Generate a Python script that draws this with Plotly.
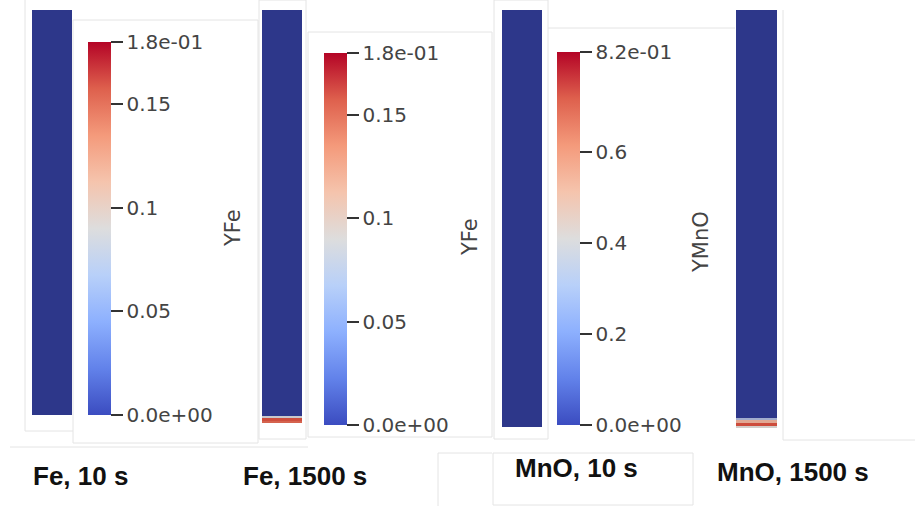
import plotly.graph_objects as go

W, H = 915, 506

# ---------------- data ----------------
panel_labels = ["Fe, 10 s", "Fe, 1500 s", "MnO, 10 s", "MnO, 1500 s"]
colorbar_titles = ["YFe", "YFe", "YMnO"]

fe_range = [0.0, 0.18]
mno_range = [0.0, 0.82]

fe_tickvals = [0.0, 0.05, 0.1, 0.15, 0.18]
fe_ticktext = ["0.0e+00", "0.05", "0.1", "0.15", "1.8e-01"]
mno_tickvals = [0.0, 0.2, 0.4, 0.6, 0.82]
mno_ticktext = ["0.0e+00", "0.2", "0.4", "0.6", "8.2e-01"]

# vertical profiles (cell edges as fraction of column height, bottom -> top)
fe_10_edges = [0.0, 1.0]
fe_10_values = [0.0]
fe_1500_edges = [0.0, 0.006, 0.012, 0.018, 1.0]
fe_1500_values = [0.16, 0.17, 0.085, 0.0]
mno_10_edges = [0.0, 1.0]
mno_10_values = [0.0]
mno_1500_edges = [0.0, 0.005, 0.013, 0.018, 0.024, 1.0]
mno_1500_values = [0.42, 0.78, 0.55, 0.3, 0.0]
col_edges = [0.0, 1.0]

# ---------------- styles ----------------
cool_warm = [
    [0.0, "rgb(59,76,192)"], [0.125, "rgb(98,130,234)"], [0.25, "rgb(141,176,254)"],
    [0.375, "rgb(184,208,249)"], [0.5, "rgb(221,221,221)"], [0.625, "rgb(245,196,173)"],
    [0.75, "rgb(244,154,123)"], [0.875, "rgb(222,96,77)"], [1.0, "rgb(180,4,38)"],
]
# shaded (lit surface) version used on the rendered columns
shaded = [
    [0.0, "rgb(45,55,138)"], [0.25, "rgb(120,140,205)"], [0.5, "rgb(210,208,205)"],
    [0.75, "rgb(232,150,120)"], [1.0, "rgb(198,58,45)"],
]

def fx(px):
    return px / W

def fy(py):
    return 1 - py / H

# column pixel boxes: (x0, x1, ytop, ybottom)
col_boxes = [(32, 72, 10, 415), (262, 302, 10, 423), (502, 542, 10, 427), (736, 777, 10, 428)]
profiles = [
    (fe_10_edges, fe_10_values, fe_range),
    (fe_1500_edges, fe_1500_values, fe_range),
    (mno_10_edges, mno_10_values, mno_range),
    (mno_1500_edges, mno_1500_values, mno_range),
]

fig = go.Figure()
layout = dict(
    width=W, height=H, margin=dict(l=0, r=0, t=0, b=0),
    paper_bgcolor="white", plot_bgcolor="white", showlegend=False,
)

for i, ((x0, x1, yt, yb), (edges, vals, rng)) in enumerate(zip(col_boxes, profiles)):
    n = "" if i == 0 else str(i + 1)
    fig.add_trace(go.Heatmap(
        x=col_edges, y=edges, z=[[v] for v in vals],
        zmin=rng[0], zmax=rng[1], colorscale=shaded, showscale=False,
        xaxis="x" + n, yaxis="y" + n, hoverinfo="skip",
    ))
    layout["xaxis" + n] = dict(domain=[fx(x0), fx(x1)], range=[0, 1], visible=False,
                               anchor="y" + n, fixedrange=True)
    layout["yaxis" + n] = dict(domain=[fy(yb), fy(yt)], range=[0, 1], visible=False,
                               anchor="x" + n, fixedrange=True)

# colorbars: (left px, top px, length px, range, tickvals, ticktext)
cbars = [
    (88, 42, 373, fe_range, fe_tickvals, fe_ticktext),
    (324, 53, 372, fe_range, fe_tickvals, fe_ticktext),
    (557, 52, 373, mno_range, mno_tickvals, mno_ticktext),
]
for j, (cx, cy, clen, rng, tv, tt) in enumerate(cbars):
    ca = "coloraxis" if j == 0 else "coloraxis" + str(j + 1)
    n = "" if j == 0 else str(j + 1)
    fig.add_trace(go.Scatter(
        x=[0.5, 0.5], y=[0.5, 0.5], mode="markers",
        marker=dict(color=rng, coloraxis=ca, opacity=0, size=1),
        xaxis="x" + n, yaxis="y" + n, hoverinfo="skip",
    ))
    layout[ca] = dict(
        cmin=rng[0], cmax=rng[1], colorscale=cool_warm,
        colorbar=dict(
            x=fx(cx), xanchor="left", y=fy(cy), yanchor="top",
            len=clen, lenmode="pixels", thickness=23, thicknessmode="pixels",
            xpad=0, ypad=0, outlinewidth=0,
            ticks="outside", ticklen=12, tickwidth=2, tickcolor="#333",
            tickvals=tv, ticktext=tt,
            tickfont=dict(family="DejaVu Sans", size=20, color="#444"),
        ),
    )

annotations = []
title_pos = [(233, 228), (470, 237), (701, 242)]
for t, (tx, ty) in zip(colorbar_titles, title_pos):
    annotations.append(dict(
        text=t, x=fx(tx), y=fy(ty), xref="paper", yref="paper",
        xanchor="center", yanchor="middle", textangle=-90, showarrow=False,
        font=dict(family="DejaVu Sans", size=21, color="#444"),
    ))
label_pos = [(31, 476), (241, 476), (513, 468), (715, 472)]
for t, (lx, ly) in zip(panel_labels, label_pos):
    annotations.append(dict(
        text="<b>" + t + "</b>", x=fx(lx), y=fy(ly), xref="paper", yref="paper",
        xanchor="left", yanchor="middle", showarrow=False,
        font=dict(family="Liberation Sans", size=26, color="#111"),
    ))
layout["annotations"] = annotations

# faint screenshot frame lines
frame_color = "#e4e4e4"
rects = [(73, 20, 258, 443), (259, 0, 306, 439), (308, 32, 492, 437),
         (493, 453, 693, 505), (494, 0, 548, 439)]
lines = [(25, 0, 25, 431), (25, 431, 73, 431), (10, 447, 308, 447),
         (438, 453, 438, 506), (438, 453, 492, 453), (783, 10, 783, 440),
         (783, 440, 915, 440), (548, 28, 735, 28)]
shapes = []
for (a, b, c, d) in rects:
    shapes.append(dict(type="rect", xref="paper", yref="paper", x0=fx(a), x1=fx(c),
                       y0=fy(d), y1=fy(b), line=dict(color=frame_color, width=1), layer="below"))
for (a, b, c, d) in lines:
    shapes.append(dict(type="line", xref="paper", yref="paper", x0=fx(a), x1=fx(c),
                       y0=fy(b), y1=fy(d), line=dict(color=frame_color, width=1), layer="below"))
layout["shapes"] = shapes

fig.update_layout(**layout)
fig.write_html(
    "out.html",
    config={"displayModeBar": False},
    post_script="document.body.style.margin='0';document.body.style.overflow='hidden';",
)
